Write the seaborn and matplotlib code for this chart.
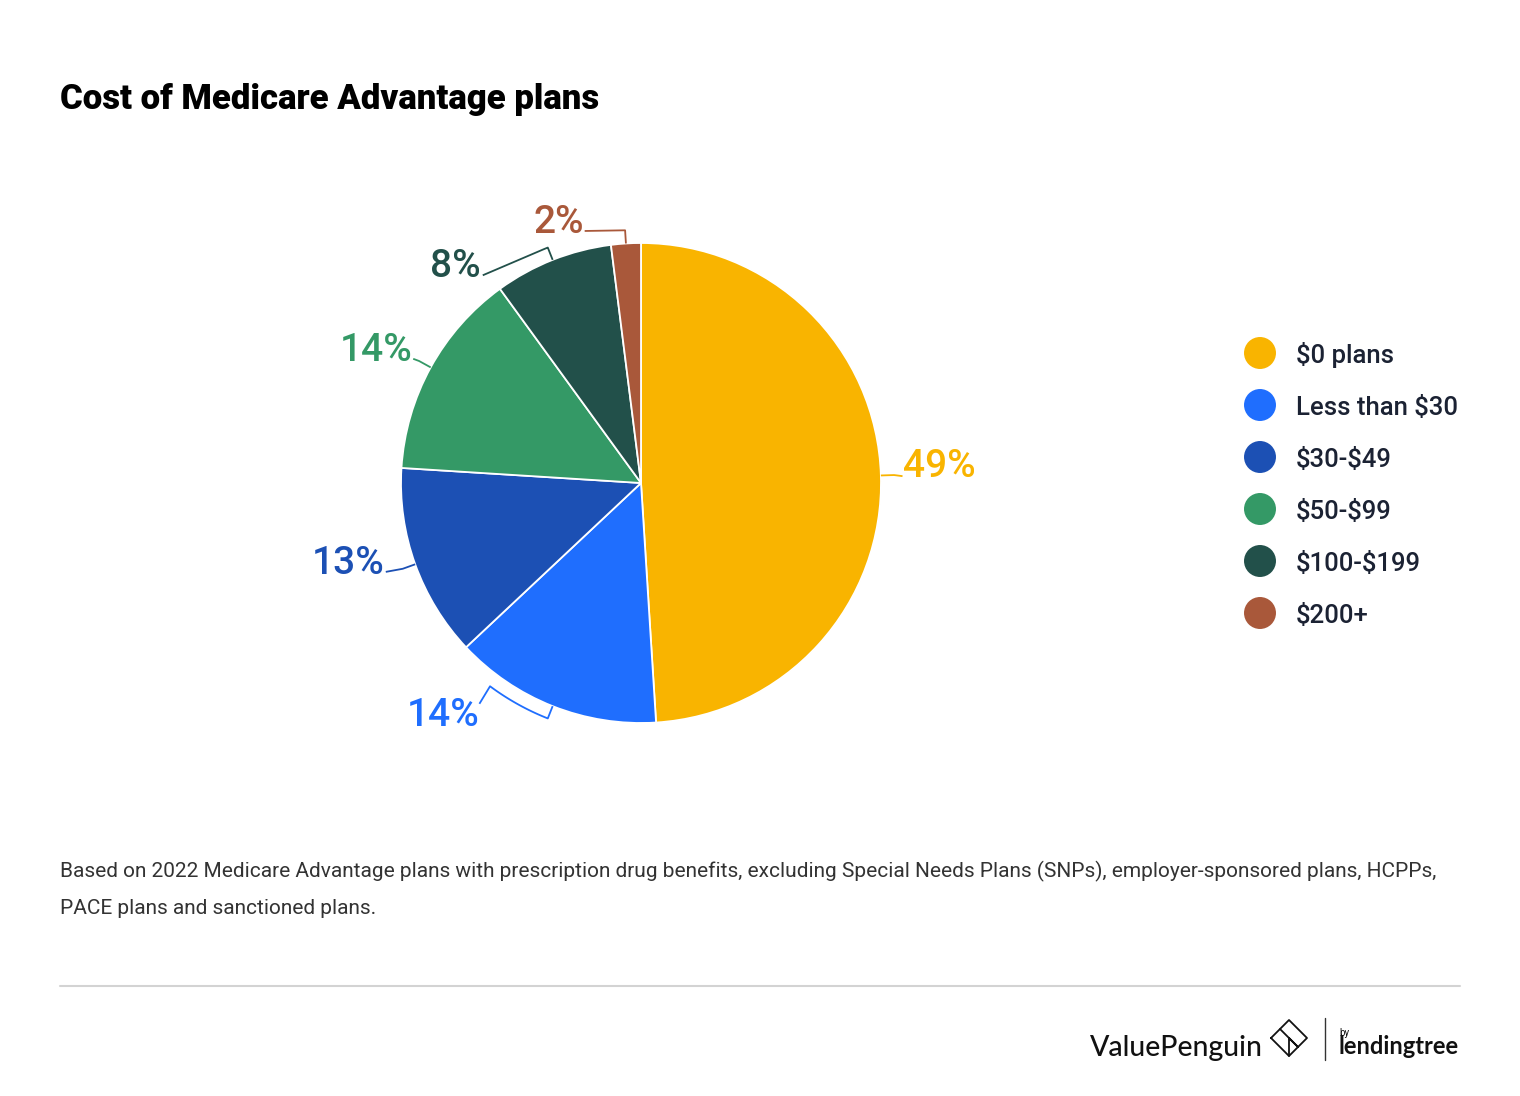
import numpy as np
import matplotlib
matplotlib.use("Agg")
import matplotlib.pyplot as plt
import seaborn as sns
from matplotlib.lines import Line2D

# --- Data ---
categories = ["$0 plans", "Less than $30", "$30-$49", "$50-$99", "$100-$199", "$200+"]
shares     = [49, 14, 13, 14, 8, 2]
pct_labels = ["49%", "14%", "13%", "14%", "8%", "2%"]
colors     = ["#F9B400", "#1F6EFE", "#1C50B4", "#349966", "#22504A", "#A9583A"]

title    = "Cost of Medicare Advantage plans"
footnote = ["Based on 2022 Medicare Advantage plans with prescription drug benefits, excluding "
            "Special Needs Plans (SNPs), employer-sponsored plans, HCPPs,",
            "PACE plans and sanctioned plans."]

# --- Leader line layout (end angle in deg, end radius, bracket sweep, text nudge px) ---
lead_angle  = [1.5, -126.2, -160.8, 151.4, 127.3, 102.6]
lead_radius = [1.09, 1.14, 1.126, 1.081, 1.088, 1.076]
bracket     = [0, -15, 0, 0, 2, 0]
nudge_px    = [(0, 1), (0, 22), (-1, 2), (-1, 2), (-2, 2), (-1, 2)]

sns.set_theme(style="white")
plt.rcParams["font.family"] = ["Roboto", "DejaVu Sans"]

W, H = 1520, 1096
fig = plt.figure(figsize=(W / 100, H / 100), dpi=100)

def fx(px):
    return px / W

def fy(py):
    return 1 - py / H

def esc(s):
    return s.replace("$", r"\$")

# --- Pie ---
R_PX = 238
cx, cy = 641, 483
half = 300
ax = fig.add_axes([fx(cx - half), fy(cy + half), 2 * half / W, 2 * half / H])
lim = half / R_PX
ax.set_xlim(-lim, lim)
ax.set_ylim(-lim, lim)
ax.set_aspect("equal")
ax.axis("off")

wedges, _ = ax.pie(shares, colors=colors, startangle=90, counterclock=False,
                   radius=1, wedgeprops=dict(edgecolor="white", linewidth=1.3))

def polar(r, deg):
    t = np.deg2rad(deg)
    return r * np.cos(t), r * np.sin(t)

r_t = 1.055
for w, lab, col, la, lr, br, (nx, ny) in zip(wedges, pct_labels, colors, lead_angle,
                                              lead_radius, bracket, nudge_px):
    m = (w.theta1 + w.theta2) / 2
    pts = [polar(1.0, m), polar(r_t, m)]
    if br != 0:
        for a in np.linspace(m, m + br, 20):
            pts.append(polar(r_t, a))
    end = polar(lr, la)
    pts.append(end)
    xs, ys = zip(*pts)
    ax.plot(xs, ys, color=col, lw=1.3, solid_capstyle="butt")
    ha = "left" if np.cos(np.deg2rad(la)) > 0 else "right"
    ax.text(end[0] + nx / R_PX, end[1] - ny / R_PX, lab, color=col,
            fontsize=28, fontweight="medium", ha=ha, va="baseline")

# --- Legend ---
lax = fig.add_axes([fx(1230), fy(639), 250 / W, 312 / H])
lax.set_xlim(0, 250)
lax.set_ylim(len(categories) - 0.5, -0.5)
lax.axis("off")
lax.scatter([30] * len(categories), range(len(categories)), s=530, c=colors,
            edgecolors="none")
for i, name in enumerate(categories):
    lax.text(66, i, esc(name), fontsize=18.5, fontweight="medium", color="#1B2233",
             va="center_baseline", ha="left")

# --- Title / footnote ---
fig.text(fx(60), fy(99), title, fontsize=25, fontweight="black", color="#000000",
         va="center", ha="left")
for k, line in enumerate(footnote):
    fig.text(fx(60), fy(871 + 38 * k), line, fontsize=15, color="#333333",
             va="center", ha="left")

# rule
fig.add_artist(Line2D([fx(60), fx(1460)], [fy(986), fy(986)], color="#D3D3D3", lw=1.5))

# --- Logo ---
fig.text(fx(1090), fy(1048), "ValuePenguin", fontsize=20.5, fontweight="medium",
         family=["Lato", "DejaVu Sans"], color="#111111", va="center", ha="left")
dx = [1271, 1289, 1307, 1289, 1271]
dy = [1038, 1020, 1038, 1056, 1038]
fig.add_artist(Line2D([fx(v) for v in dx], [fy(v) for v in dy], color="#111111", lw=1.3))
fig.add_artist(Line2D([fx(1280), fx(1298), fx(1289), fx(1289)],
                      [fy(1029), fy(1047), fy(1038), fy(1056)], color="#111111", lw=1.3))
fig.add_artist(Line2D([fx(1325), fx(1325)], [fy(1018), fy(1060)], color="#333333", lw=1))
fig.text(fx(1339), fy(1033), "by", fontsize=7, color="#111111", va="center", ha="left")
fig.text(fx(1338), fy(1047), "lendingtree", fontsize=17, fontweight="bold",
         family=["Lato", "DejaVu Sans"], color="#111111", va="center", ha="left")

fig.savefig("out.png", dpi=100, facecolor="white")
